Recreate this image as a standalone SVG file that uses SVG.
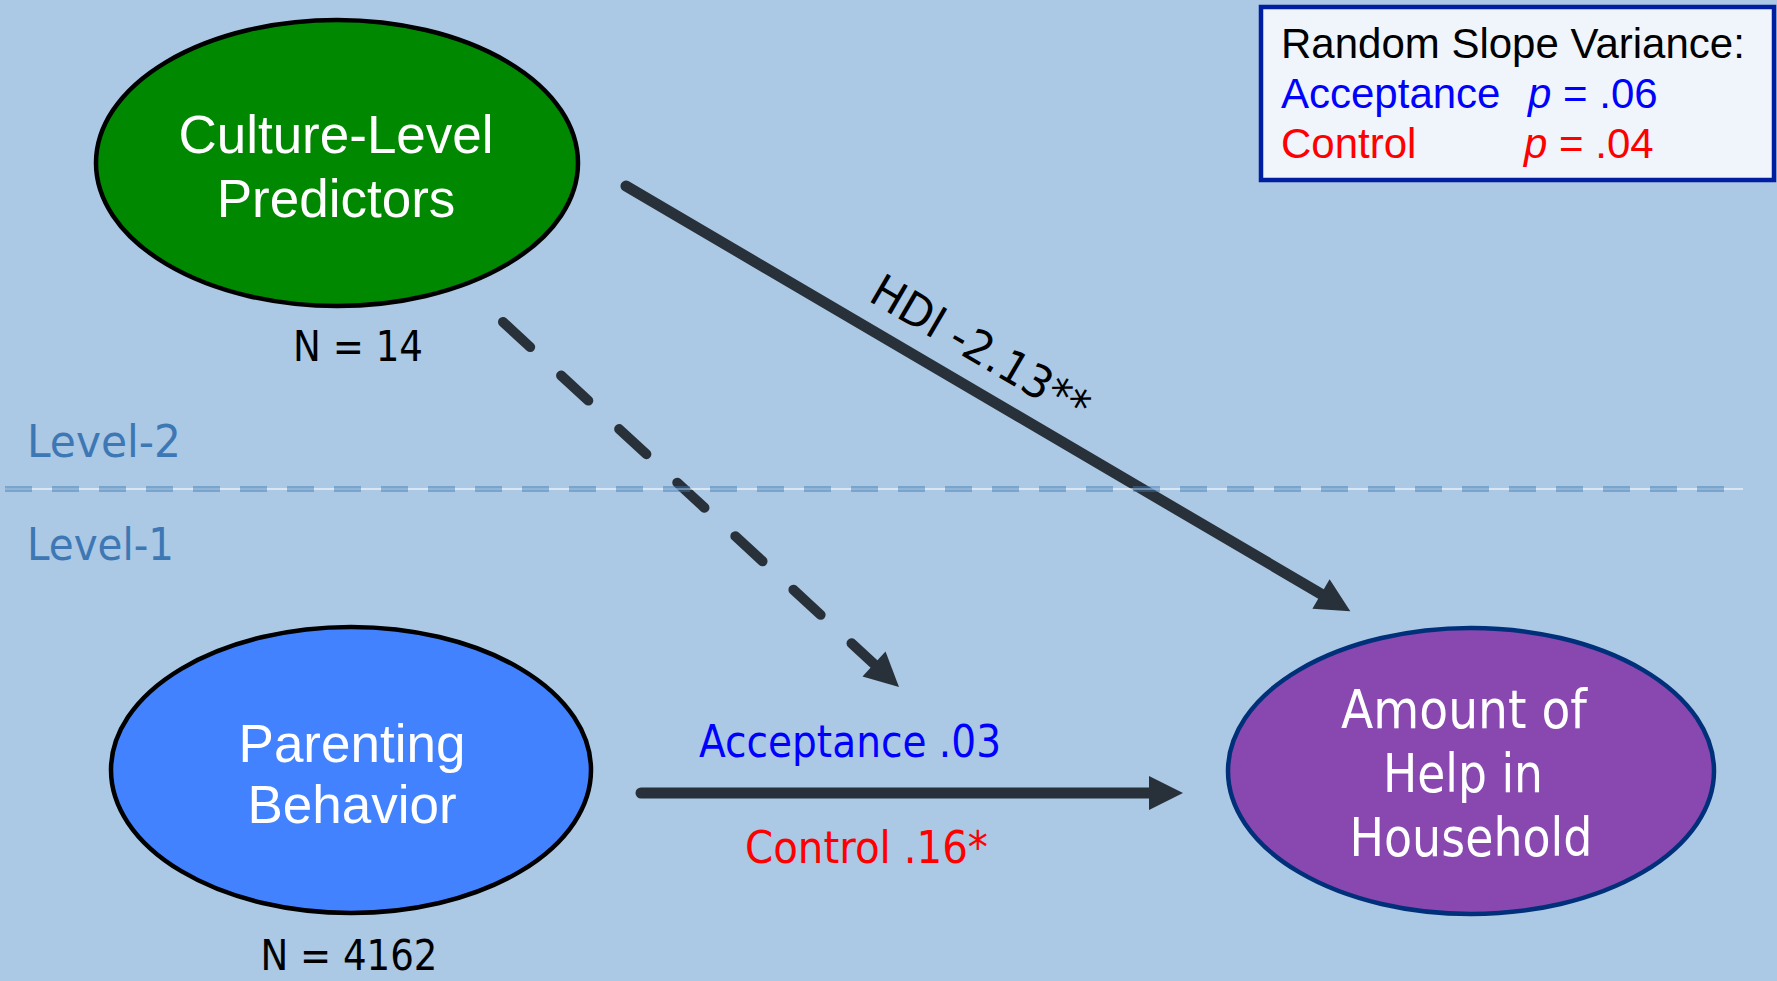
<svg xmlns="http://www.w3.org/2000/svg" width="1777" height="981" viewBox="0 0 1777 981">
  <defs>
    <marker id="head" markerUnits="userSpaceOnUse" markerWidth="40" markerHeight="40" refX="0" refY="0" viewBox="-2 -20 40 40" orient="auto" overflow="visible">
      <path d="M0,-17 L34,0 L0,17 z" fill="#283039"/>
    </marker>
    <style>
      .arrow { stroke: #283039; stroke-width: 11; stroke-linecap: round; fill: none; }
      .dashed { stroke-width: 10; stroke-dasharray: 37 42; }
      .node { stroke-width: 4.5; }
      .ntext { font-family: "Liberation Sans", Arial, sans-serif; font-size: 53px; fill: #ffffff; text-anchor: middle; }
      .ttext { font-family: "DejaVu Sans", Tahoma, Verdana, sans-serif; }
      .lvl { font-size: 45px; fill: #3d77b4; }
      .boxt { font-family: "Liberation Sans", Arial, sans-serif; font-size: 42px; }
    </style>
  </defs>

  <rect x="0" y="0" width="1777" height="981" fill="#abc8e4"/>

  <g id="level-labels" class="ttext">
    <text class="lvl" x="27" y="457" textLength="154" lengthAdjust="spacingAndGlyphs">Level-2</text>
    <text class="lvl" x="27" y="560" textLength="147" lengthAdjust="spacingAndGlyphs">Level-1</text>
  </g>

  <g id="culture-level-predictors">
    <ellipse class="node" cx="337" cy="163" rx="241" ry="143" fill="#008800" stroke="#000000"/>
    <text class="ntext" x="336" y="153">Culture-Level</text>
    <text class="ntext" x="336" y="217">Predictors</text>
    <text class="ttext" x="358" y="361" font-size="43" text-anchor="middle" fill="#000000" textLength="130" lengthAdjust="spacingAndGlyphs">N = 14</text>
  </g>

  <g id="parenting-behavior">
    <ellipse class="node" cx="351" cy="770" rx="240" ry="143" fill="#4282ff" stroke="#000000"/>
    <text class="ntext" x="352" y="762">Parenting</text>
    <text class="ntext" x="352" y="823">Behavior</text>
    <text class="ttext" x="349" y="970" font-size="43" text-anchor="middle" fill="#000000" textLength="177" lengthAdjust="spacingAndGlyphs">N = 4162</text>
  </g>

  <g id="amount-of-help">
    <ellipse class="node" cx="1471" cy="771" rx="243" ry="143" fill="#8848b0" stroke="#00307a"/>
    <g class="ttext" font-size="53" fill="#ffffff" text-anchor="middle">
      <text x="1464" y="728" textLength="246" lengthAdjust="spacingAndGlyphs">Amount of</text>
      <text x="1463" y="792" textLength="160" lengthAdjust="spacingAndGlyphs">Help in</text>
      <text x="1471" y="856" textLength="243" lengthAdjust="spacingAndGlyphs">Household</text>
    </g>
  </g>

  <g id="random-slope-box">
    <rect x="1261" y="7" width="513" height="173" fill="#eff5fb" stroke="#001ea0" stroke-width="4.5"/>
    <text class="boxt" x="1281" y="58" fill="#000000">Random Slope Variance:</text>
    <text class="boxt" x="1281" y="108" fill="#0000ff">Acceptance</text>
    <text class="boxt" x="1528" y="108" fill="#0000ff"><tspan font-style="italic">p</tspan> = .06</text>
    <text class="boxt" x="1281" y="158" fill="#ff0000">Control</text>
    <text class="boxt" x="1524" y="158" fill="#ff0000"><tspan font-style="italic">p</tspan> = .04</text>
  </g>

  <g id="connectors">
    <line class="arrow" x1="626" y1="186" x2="1321" y2="594" marker-end="url(#head)"/>
    <line class="arrow dashed" x1="503" y1="322" x2="874" y2="664" marker-end="url(#head)"/>
    <line class="arrow" x1="641" y1="793" x2="1149" y2="793" marker-end="url(#head)"/>
    <g class="ttext" font-size="45">
      <text x="867" y="300" transform="rotate(30.4 867 300)" fill="#000000" textLength="245" lengthAdjust="spacingAndGlyphs">HDI -2.13**</text>
      <text x="699" y="757" fill="#0000ff" textLength="302" lengthAdjust="spacingAndGlyphs">Acceptance .03</text>
      <text x="745" y="863" fill="#ff0000" textLength="243" lengthAdjust="spacingAndGlyphs">Control .16*</text>
    </g>
  </g>

  <g id="level-separator">
    <line x1="5" y1="489" x2="1743" y2="489" stroke="#ffffff" stroke-opacity="0.55" stroke-width="2"/>
    <line x1="5" y1="489" x2="1743" y2="489" stroke="#3c78b4" stroke-opacity="0.45" stroke-width="6" stroke-dasharray="27 20"/>
  </g>
</svg>
